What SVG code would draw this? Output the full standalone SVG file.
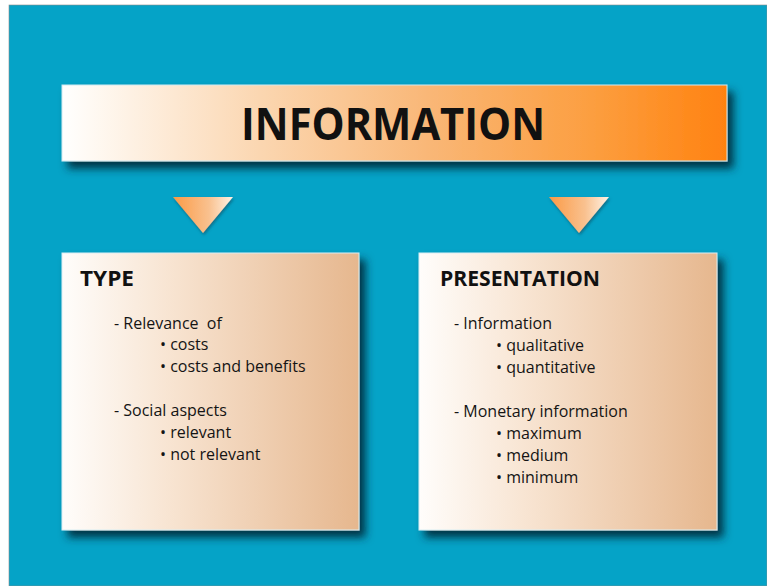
<svg xmlns="http://www.w3.org/2000/svg" width="767" height="586" viewBox="0 0 767 586">
<defs>
<linearGradient id="gBanner" x1="0" y1="0" x2="1" y2="0">
<stop offset="0" stop-color="#ffffff"/>
<stop offset="0.04" stop-color="#fffaf4"/>
<stop offset="0.3" stop-color="#fbd6b0"/>
<stop offset="0.55" stop-color="#f9b777"/>
<stop offset="0.8" stop-color="#fc9e3f"/>
<stop offset="1" stop-color="#ff8210"/>
</linearGradient>
<linearGradient id="gBox" x1="0" y1="0" x2="1" y2="0">
<stop offset="0" stop-color="#fffdfb"/>
<stop offset="0.35" stop-color="#f8e5d3"/>
<stop offset="1" stop-color="#e6b78e"/>
</linearGradient>
<linearGradient id="gTri" x1="0" y1="0" x2="1" y2="0">
<stop offset="0" stop-color="#fb9a45"/>
<stop offset="0.6" stop-color="#f9c18f"/>
<stop offset="1" stop-color="#fff3e6"/>
</linearGradient>
<filter id="shadow" x="-10%" y="-10%" width="125%" height="135%">
<feDropShadow dx="6" dy="7" stdDeviation="4" flood-color="#052a38" flood-opacity="0.9"/>
</filter>
<filter id="tshadow" x="-20%" y="-20%" width="150%" height="150%">
<feDropShadow dx="1" dy="2" stdDeviation="1.5" flood-color="#08465a" flood-opacity="0.6"/>
</filter>
<style>
.title{font-family:"Open Sans","DejaVu Sans",sans-serif;font-weight:bold;fill:#111;}
.body{font-family:"Open Sans","DejaVu Sans",sans-serif;font-size:16px;fill:#141414;white-space:pre;}
.box{fill:url(#gBox);stroke:#d9eef3;stroke-width:1;filter:url(#shadow);}
.tri{fill:url(#gTri);filter:url(#tshadow);}
</style>
</defs>
<rect x="0" y="0" width="767" height="586" fill="#ffffff"/>
<rect x="9" y="5" width="758" height="581" fill="#05a3c7" stroke="#8a8a8a" stroke-width="0.6"/>

<g id="banner">
<rect x="62" y="85" width="665" height="76" fill="url(#gBanner)" stroke="#cfe9f0" stroke-width="1" filter="url(#shadow)"/>
<text class="title" x="393" y="140" font-size="44" text-anchor="middle" textLength="304" lengthAdjust="spacingAndGlyphs">INFORMATION</text>
</g>

<g id="connectors">
<polygon class="tri" points="173,197 233,197 203,233"/>
<polygon class="tri" points="549,197 609,197 579,233"/>
</g>

<g id="type">
<rect class="box" x="62" y="253" width="297" height="277"/>
<text class="title" x="80" y="286" font-size="21" textLength="54" lengthAdjust="spacingAndGlyphs">TYPE</text>
<text class="body" x="114" y="329" xml:space="preserve">- Relevance  of</text>
<text class="body" x="160" y="350">• costs</text>
<text class="body" x="160" y="372">• costs and benefits</text>
<text class="body" x="114" y="416">- Social aspects</text>
<text class="body" x="160" y="438">• relevant</text>
<text class="body" x="160" y="460">• not relevant</text>
</g>

<g id="presentation">
<rect class="box" x="419" y="253" width="298" height="277"/>
<text class="title" x="440" y="286" font-size="21" textLength="160" lengthAdjust="spacingAndGlyphs">PRESENTATION</text>
<text class="body" x="454" y="329">- Information</text>
<text class="body" x="496" y="351">• qualitative</text>
<text class="body" x="496" y="373">• quantitative</text>
<text class="body" x="454" y="417">- Monetary information</text>
<text class="body" x="496" y="439">• maximum</text>
<text class="body" x="496" y="461">• medium</text>
<text class="body" x="496" y="483">• minimum</text>
</g>
</svg>
